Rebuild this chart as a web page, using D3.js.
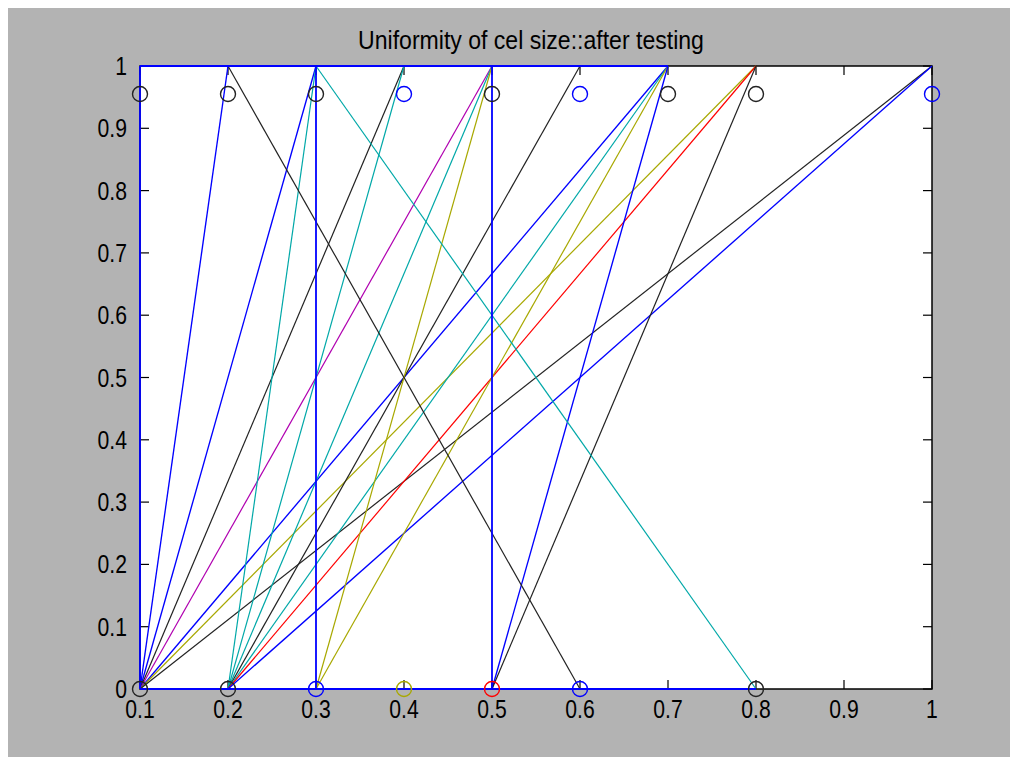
<!DOCTYPE html>
<html><head><meta charset="utf-8">
<script src="https://cdn.jsdelivr.net/npm/d3@7"></script>
<style>html,body{margin:0;padding:0;background:#fff;}svg{display:block;}</style>
</head><body>
<script>
// ---- data ----
const chartTitle = "Uniformity of cel size::after testing";
const xTicks = [0.1, 0.2, 0.3, 0.4, 0.5, 0.6, 0.7, 0.8, 0.9, 1];
const xTickLabels = ["0.1","0.2","0.3","0.4","0.5","0.6","0.7","0.8","0.9","1"];
const yTicks = [0, 0.1, 0.2, 0.3, 0.4, 0.5, 0.6, 0.7, 0.8, 0.9, 1];
const yTickLabels = ["0","0.1","0.2","0.3","0.4","0.5","0.6","0.7","0.8","0.9","1"];

// line segments (start x, start y, end x, end y, colour key)
const segX0 = [0.1,0.1,0.1,0.1,0.1,0.1,0.1, 0.2,0.2,0.2,0.2,0.2,0.2,0.2, 0.3,0.3, 0.5,0.5, 0.2,0.3, 0.1,0.3,0.5, 0.1,0.1];
const segY0 = [0,0,0,0,0,0,0, 0,0,0,0,0,0,0, 0,0, 0,0, 1,1, 0,0,0, 0,1];
const segX1 = [0.2,0.3,0.4,0.5,0.7,0.8,1, 0.3,0.4,0.5,0.6,0.7,0.8,1, 0.5,0.7, 0.7,0.8, 0.6,0.8, 0.1,0.3,0.5, 0.8,0.7];
const segY1 = [1,1,1,1,1,1,1, 1,1,1,1,1,1,1, 1,1, 1,1, 0,0, 1,1,1, 0,1];
const segColor = ["b","b","k","m","b","y","k", "c","c","c","k","c","r","b", "y","y", "b","k", "k","c", "b","b","b", "b","b"];

// circle markers
const topMarkX = [0.1,0.2,0.3,0.4,0.5,0.6,0.7,0.8,1];
const topMarkY = [0.955,0.955,0.955,0.955,0.955,0.955,0.955,0.955,0.955];
const topMarkColor = ["k","k","k","b","k","b","k","k","b"];
const botMarkX = [0.1,0.2,0.3,0.4,0.5,0.6,0.8];
const botMarkY = [0,0,0,0,0,0,0];
const botMarkColor = ["k","k","b","y","r","b","k"];

const palette = {b:"#0000ff", c:"#00a8a8", m:"#b000b0", y:"#a8a800", r:"#ff0000", k:"#222222"};

// ---- layout ----
const W = 1018, H = 767;
const svg = d3.select("body").append("svg").attr("width", W).attr("height", H);
svg.append("rect").attr("x",0).attr("y",0).attr("width",W).attr("height",H).attr("fill","#ffffff");
svg.append("rect").attr("x",8).attr("y",8).attr("width",1002).attr("height",749).attr("fill","#b3b3b3");

const L = 140, R = 932, T = 66, B = 689;
const x = d3.scaleLinear().domain([0.1, 1]).range([L, R]);
const y = d3.scaleLinear().domain([0, 1]).range([B, T]);

svg.append("rect").attr("x",L).attr("y",T).attr("width",R-L).attr("height",B-T).attr("fill","#fff");

const fontFam = "Arial, 'Liberation Sans', Helvetica, sans-serif";
const sx = 0.83;

// ticks
const tickLen = 9;
const tg = svg.append("g").attr("stroke","#000").attr("stroke-width",1.2);
xTicks.forEach(v => {
  tg.append("line").attr("x1",x(v)).attr("x2",x(v)).attr("y1",B).attr("y2",B-tickLen);
  tg.append("line").attr("x1",x(v)).attr("x2",x(v)).attr("y1",T).attr("y2",T+tickLen);
});
yTicks.forEach(v => {
  tg.append("line").attr("x1",L).attr("x2",L+tickLen).attr("y1",y(v)).attr("y2",y(v));
  tg.append("line").attr("x1",R).attr("x2",R-tickLen).attr("y1",y(v)).attr("y2",y(v));
});
svg.append("rect").attr("x",L).attr("y",T).attr("width",R-L).attr("height",B-T)
  .attr("fill","none").attr("stroke","#000").attr("stroke-width",1.5);

// tick labels
xTicks.forEach((v,i) => {
  svg.append("text").attr("transform",`translate(${x(v)},718) scale(${sx},1)`)
    .attr("text-anchor","middle").attr("font-family",fontFam).attr("font-size",25.5).attr("fill","#000")
    .text(xTickLabels[i]);
});
yTicks.forEach((v,i) => {
  svg.append("text").attr("transform",`translate(127,${y(v)+9}) scale(${sx},1)`)
    .attr("text-anchor","end").attr("font-family",fontFam).attr("font-size",25.5).attr("fill","#000")
    .text(yTickLabels[i]);
});

// title
svg.append("text").attr("transform",`translate(531,49) scale(0.87,1)`)
  .attr("text-anchor","middle").attr("font-family",fontFam).attr("font-size",26.5).attr("fill","#000")
  .text(chartTitle);

// segments
const segs = segX0.map((d,i) => ({x0:d, y0:segY0[i], x1:segX1[i], y1:segY1[i], c:segColor[i]}));
svg.append("g").selectAll("line").data(segs).join("line")
  .attr("x1", d => x(d.x0)).attr("y1", d => y(d.y0))
  .attr("x2", d => x(d.x1)).attr("y2", d => y(d.y1))
  .attr("stroke", d => palette[d.c])
  .attr("stroke-width", d => (d.c === "b" && (d.x0 === d.x1 || d.y0 === d.y1)) ? 1.8 : (d.c === "b" ? 1.35 : 1.2));

// markers
const marks = topMarkX.map((d,i) => ({x:d, y:topMarkY[i], c:topMarkColor[i]}))
  .concat(botMarkX.map((d,i) => ({x:d, y:botMarkY[i], c:botMarkColor[i]})));
svg.append("g").selectAll("circle").data(marks).join("circle")
  .attr("cx", d => x(d.x)).attr("cy", d => y(d.y)).attr("r", 7.5)
  .attr("fill","none").attr("stroke", d => palette[d.c]).attr("stroke-width",1.4);
</script>
</body></html>
